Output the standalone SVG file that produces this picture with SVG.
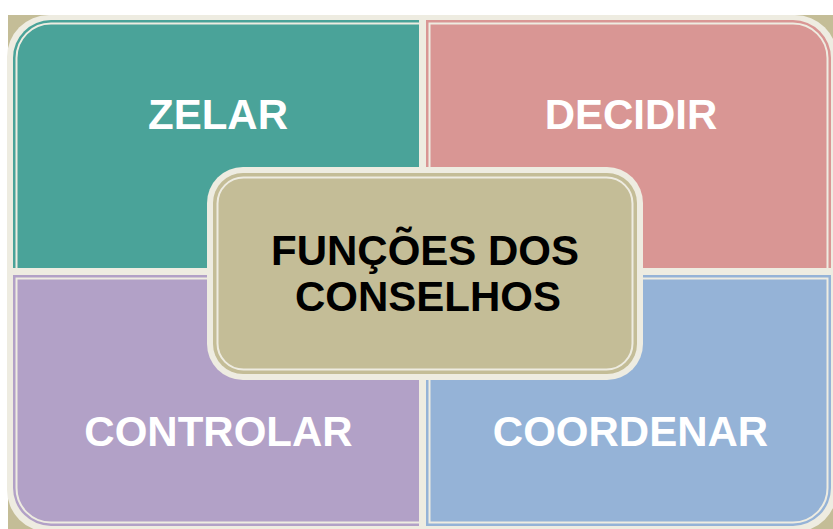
<svg xmlns="http://www.w3.org/2000/svg" width="833" height="529" viewBox="0 0 833 529">
  <style>
    .lbl { font-family: "Liberation Sans", Arial, sans-serif; font-weight: bold; font-size: 42px; text-anchor: middle; }
    .w { fill: #ffffff; }
    .k { fill: #000000; }
    .inner { fill: none; stroke: #eeece1; stroke-width: 2; }
  </style>
  <rect width="833" height="529" fill="#ffffff"/>
  <rect x="8" y="15" width="825" height="514" fill="#c4bd97"/>
  <rect x="7" y="15" width="830" height="517" rx="42" ry="42" fill="#eeece1"/>
  <g id="zelar">
    <path d="M13,58 A38,38 0 0 1 51,20 H419 V268 H13 Z" fill="#4aa399"/>
    <path class="inner" d="M16.5,268 V58 A34.5,34.5 0 0 1 51,23.5 H419"/>
    <text class="lbl w" x="218" y="129">ZELAR</text>
  </g>
  <g id="decidir">
    <path d="M426,20 H793 A38,38 0 0 1 831,58 V268 H426 Z" fill="#d99694"/>
    <path class="inner" d="M429.5,268 V23.5 H793 A34.5,34.5 0 0 1 827.5,58 V268"/>
    <text class="lbl w" x="631" y="129">DECIDIR</text>
  </g>
  <g id="controlar">
    <path d="M13,275 H419 V526 H51 A38,38 0 0 1 13,488 Z" fill="#b2a1c7"/>
    <path class="inner" d="M419,278.5 H16.5 V488 A34.5,34.5 0 0 0 51,522.5 H419"/>
    <text class="lbl w" x="218.5" y="446">CONTROLAR</text>
  </g>
  <g id="coordenar">
    <path d="M426,275 H831 V488 A38,38 0 0 1 793,526 H426 Z" fill="#95b3d7"/>
    <path class="inner" d="M429.5,278.5 H827.5 V488 A34.5,34.5 0 0 1 793,522.5 H429.5 Z"/>
    <text class="lbl w" x="630.5" y="446">COORDENAR</text>
  </g>
  <g id="funcoes">
    <rect x="207" y="167" width="436" height="213" rx="36" ry="36" fill="#eeece1"/>
    <rect x="213" y="173" width="424" height="201" rx="30" ry="30" fill="#c4bd97"/>
    <rect x="217.5" y="177.5" width="415" height="192" rx="26" ry="26" class="inner" stroke="#eeece1" stroke-width="1.5"/>
    <text class="lbl k" x="425" y="265">FUNÇÕES DOS</text>
    <text class="lbl k" x="428" y="311">CONSELHOS</text>
  </g>
  <g id="connectors"></g>
</svg>
